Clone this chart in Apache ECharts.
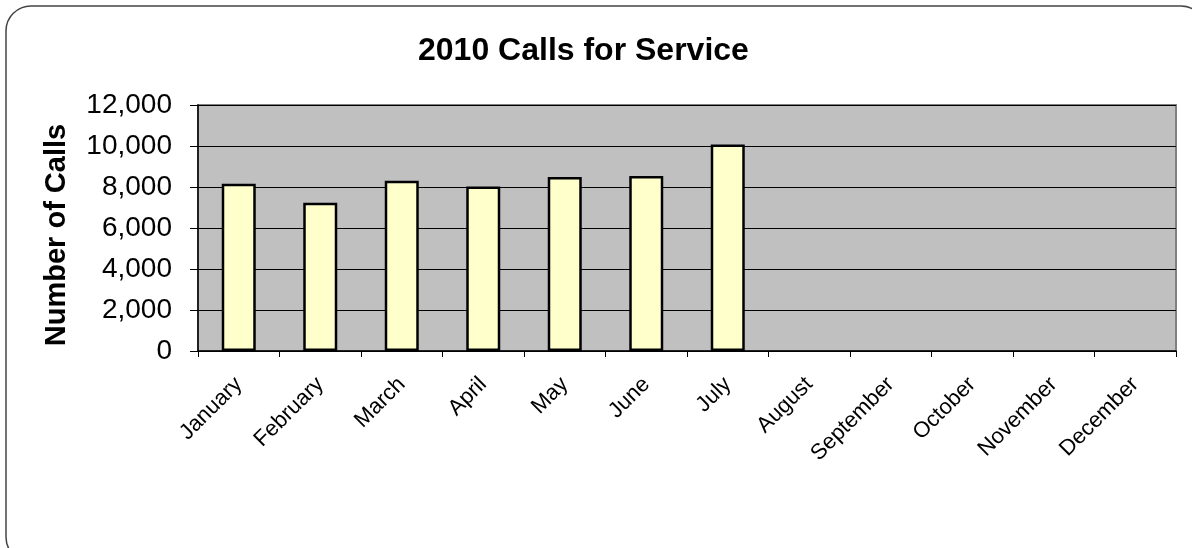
<!DOCTYPE html>
<html>
<head>
<meta charset="utf-8">
<script src="https://cdn.jsdelivr.net/npm/echarts@6/dist/echarts.min.js"></script>
<style>
html,body{margin:0;padding:0;background:#fff;}
#chart{width:1192px;height:548px;}
</style>
</head>
<body>
<div id="chart"></div>
<script>
var categories = ['January','February','March','April','May','June','July','August','September','October','November','December'];
var calls = [8160, 7230, 8310, 8030, 8490, 8540, 10070, null, null, null, null, null];
var yTicks = [0, 2000, 4000, 6000, 8000, 10000, 12000];

var chart = echarts.init(document.getElementById('chart'));
var FONT = '"Liberation Sans", Arial, sans-serif';
chart.setOption({
  animation: false,
  backgroundColor: '#fff',
  textStyle: { fontFamily: FONT },
  graphic: [{
    type: 'rect',
    shape: { x: 6, y: 6, width: 1200, height: 556, r: 25 },
    style: { fill: 'none', stroke: '#444', lineWidth: 1.5 },
    silent: true, z: -1
  }],
  title: {
    text: '2010 Calls for Service',
    left: 413, top: 30,
    textStyle: { fontFamily: FONT, fontSize: 32, fontWeight: 'bold', color: '#000' }
  },
  grid: {
    left: 198, right: 16, top: 105, bottom: 197,
    show: true, backgroundColor: '#C0C0C0', borderColor: '#808080', borderWidth: 2
  },
  xAxis: {
    type: 'category',
    data: categories,
    axisLine: { lineStyle: { color: '#000', width: 1.5 } },
    axisTick: { show: true, length: 6, lineStyle: { color: '#000' } },
    axisLabel: { rotate: 45, margin: 30, fontSize: 22, color: '#000', fontFamily: FONT, interval: 0 }
  },
  yAxis: {
    type: 'value',
    min: yTicks[0], max: yTicks[yTicks.length - 1], interval: 2000,
    name: 'Number of Calls',
    nameLocation: 'middle',
    nameGap: 127,
    nameTextStyle: { fontSize: 29, fontWeight: 'bold', color: '#000', fontFamily: FONT, padding: [0, 14, 0, 0] },
    axisLine: { show: true, lineStyle: { color: '#000', width: 1.5 } },
    axisTick: { show: true, length: 8, lineStyle: { color: '#000' } },
    axisLabel: {
      margin: 26, fontSize: 28, color: '#000', fontFamily: FONT,
      formatter: function (v) { return v.toLocaleString('en-US'); }
    },
    splitLine: { show: true, lineStyle: { color: '#000', width: 1 } }
  },
  series: [{
    type: 'bar',
    data: calls,
    barWidth: 34,
    itemStyle: { color: '#FFFFCC', borderColor: '#000', borderWidth: 2.5 }
  }]
});
</script>
</body>
</html>
